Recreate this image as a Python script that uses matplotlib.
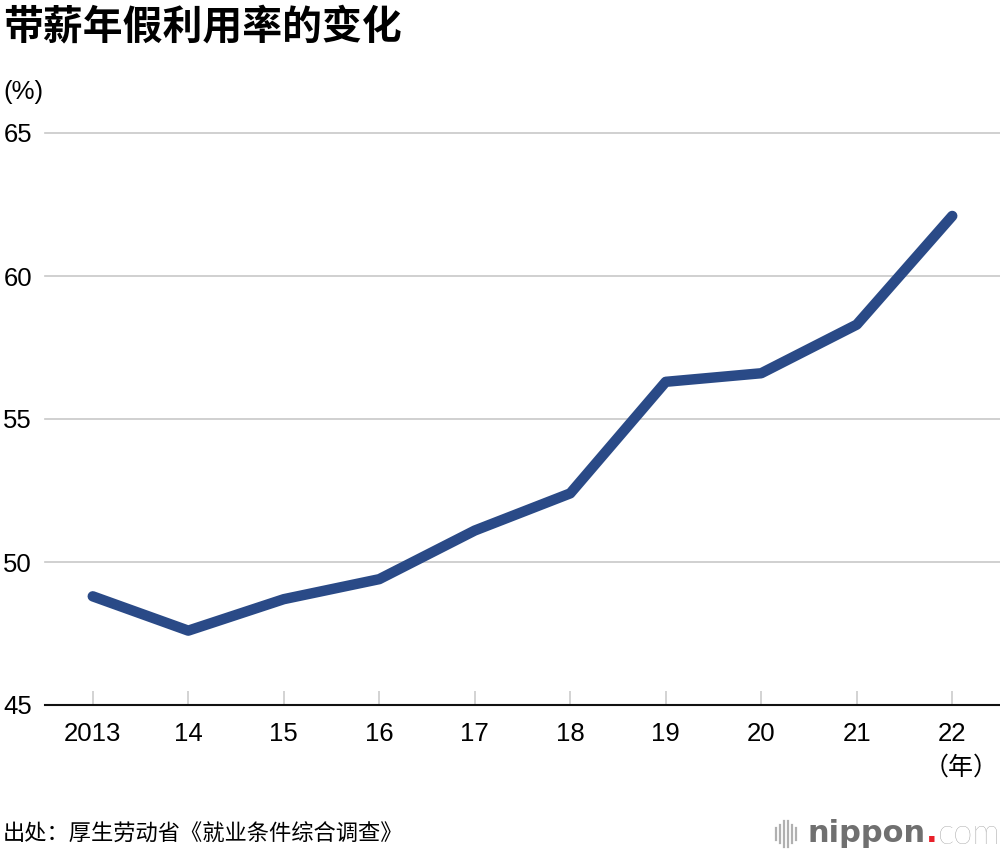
import numpy as np
import matplotlib.pyplot as plt
from matplotlib.lines import Line2D

plt.rcParams['font.family'] = ['Noto Sans CJK SC', 'DejaVu Sans']

years = ["2013", "14", "15", "16", "17", "18", "19", "20", "21", "22"]
rate = [48.8, 47.6, 48.7, 49.4, 51.1, 52.4, 56.3, 56.6, 58.3, 62.1]
yticks = [45, 50, 55, 60, 65]

LAT = ["Liberation Sans", "DejaVu Sans"]

fig = plt.figure(figsize=(10, 8.56), dpi=100)
ax = fig.add_axes([0.045, 1 - 705 / 856, 0.955, (705 - 133) / 856])

x = np.arange(len(years))
ax.plot(x, rate, color="#2a4a87", lw=7.5, solid_capstyle="round",
        solid_joinstyle="round", zorder=3)

ax.set_xlim(-0.5, len(years) - 0.5)
ax.set_ylim(45, 65)
ax.set_yticks(yticks)
ax.set_xticks(x)
ax.set_xticklabels(years, fontsize=18.5, family=LAT)
ax.set_yticklabels([str(v) for v in yticks], fontsize=18.5, family=LAT)

for v in yticks[1:]:
    ax.axhline(v, color="#c8c8c8", lw=1.2, zorder=1, clip_on=False)

for s in ["top", "right", "left"]:
    ax.spines[s].set_visible(False)
ax.spines["bottom"].set_color("#111111")
ax.spines["bottom"].set_linewidth(1.5)

ax.tick_params(axis="y", length=0, pad=30)
for lab in ax.get_yticklabels():
    lab.set_horizontalalignment("left")
ax.tick_params(axis="x", direction="in", length=10, width=1.2,
               color="#cccccc", pad=12.5)

fig.text(0.003, 1 - 27 / 856, "带薪年假利用率的变化", fontsize=28.7,
         fontweight="bold", va="center", ha="left")
fig.text(0.003, 1 - 92 / 856, "(%)", fontsize=18.5, va="center", ha="left",
         family=LAT)
fig.text(0.999, 1 - 768 / 856, "（年）", fontsize=18, va="center", ha="right")
fig.text(0.003, 1 - 834 / 856, "出处：厚生劳动省《就业条件综合调查》",
         fontsize=16, va="center", ha="left")

# nippon.com logo: bar mark + wordmark
bar_x = [776, 780, 784, 788, 792, 796]
bar_h = [12, 18, 26, 26, 18, 12]
for bx, bh in zip(bar_x, bar_h):
    fig.add_artist(Line2D([bx / 1000, bx / 1000],
                          [1 - (834 + bh / 2) / 856, 1 - (834 - bh / 2) / 856],
                          color="#b0b0b0", lw=1.6))

fig.canvas.draw()
r = fig.canvas.get_renderer()
t1 = fig.text(0.807, 1 - 834 / 856, "nippon", fontsize=22, color="#707070",
              fontweight="bold", va="center", ha="left", family=["DejaVu Sans"])
x1 = t1.get_window_extent(r).x1 / 1000
t2 = fig.text(x1 + 0.001, 1 - 834 / 856, ".", fontsize=22, color="#e8202a",
              fontweight="bold", va="center", ha="left", family=["DejaVu Sans"])
x2 = t2.get_window_extent(r).x1 / 1000
fig.text(x2, 1 - 834 / 856, "com", fontsize=25, color="#8f8f8f",
         va="center", ha="left", family=["Lato", "DejaVu Sans"],
         fontweight="light")

fig.savefig("out.png", dpi=100)
